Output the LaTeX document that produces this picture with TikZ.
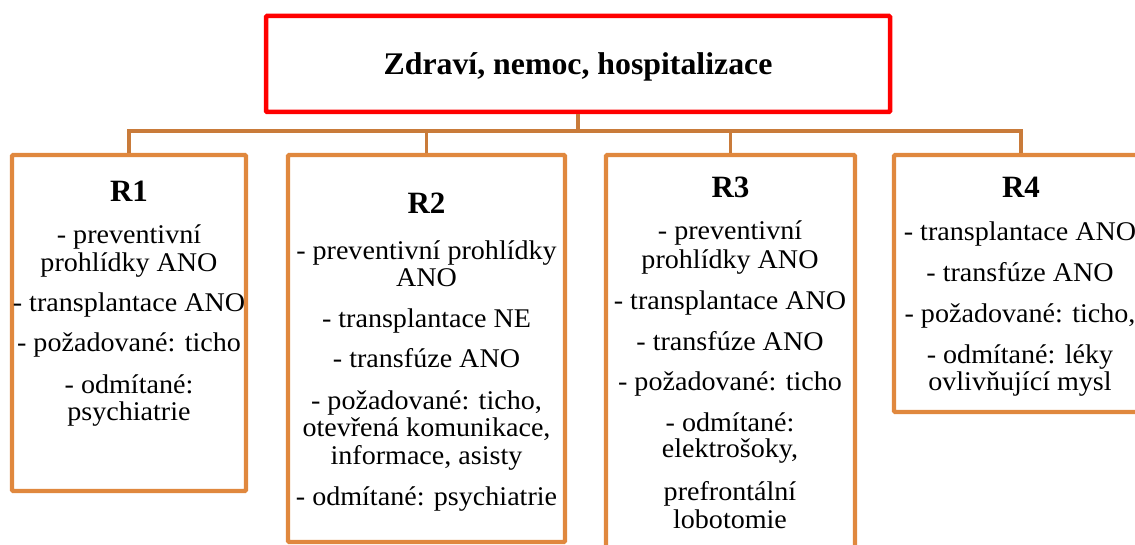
\documentclass[tikz,border=0pt]{standalone}
\usepackage{fontspec}
\setmainfont{Liberation Serif}
\definecolor{boxor}{HTML}{E0883E}
\definecolor{connor}{HTML}{C97B3A}
\definecolor{topred}{HTML}{FF0000}
\begin{document}
\begin{tikzpicture}[x=1pt,y=-1pt,
  rbox/.style={draw=boxor, line width=4.2pt, rounded corners=1pt, inner sep=0pt, fill=white},
  tbox/.style={draw=topred, line width=4.5pt, rounded corners=1pt, inner sep=0pt},
  conn/.style={draw=connor, line width=3.5pt},
  ln/.style={anchor=base, inner sep=0pt, font=\fontsize{27}{29}\selectfont, xscale=1.04},
  hd/.style={anchor=base, inner sep=0pt, font=\fontsize{31}{33}\selectfont\bfseries},
  ttl/.style={anchor=base, inner sep=0pt, font=\fontsize{31.5}{33}\selectfont\bfseries, xscale=1.01}]
\useasboundingbox (0,0) rectangle (1135,545);
\clip (0,0) rectangle (1135,545);

% boxes
\node[tbox, minimum width=624pt, minimum height=96pt] (top) at (578,64) {};
\node[rbox, minimum width=234pt, minimum height=336pt] (r1box) at (129,323) {};
\node[rbox, minimum width=277pt, minimum height=387pt] (r2box) at (426.5,348.5) {};
\node[rbox, minimum width=249pt, minimum height=420pt] (r3box) at (730.5,365) {};
\node[rbox, minimum width=254pt, minimum height=257pt] (r4box) at (1021,283.5) {};

% connectors
\coordinate (bar) at (578,131);
\draw[conn] (top.south) -- (bar);
\draw[conn] (bar) -| (r1box.north);
\draw[conn] (bar) -| (r2box.north);
\draw[conn] (bar) -| (r3box.north);
\draw[conn] (bar) -| (r4box.north);

% title
\node[ttl] (title) at (578,75) {Zdraví, nemoc, hospitalizace};

% headings
\node[hd] (r1h) at (129,202) {R1};
\node[hd] (r2h) at (426.5,214) {R2};
\node[hd] (r3h) at (730.5,198) {R3};
\node[hd] (r4h) at (1021,198) {R4};

% R1 text
\foreach \t/\y [count=\i] in {{- preventivní}/244, {prohlídky ANO}/271.5, {- transplantace ANO}/312, {- požadované: ticho}/352, {- odmítané:}/393, {psychiatrie}/420.5}
  \node[ln] (r1l\i) at (129,\y) {\t};

% R2 text
\foreach \t/\y [count=\i] in {{- preventivní prohlídky}/260, {ANO}/287, {- transplantace NE}/327, {- transfúze ANO}/367, {- požadované: ticho,}/409, {otevřená komunikace,}/436.5, {informace, asisty}/464, {- odmítané: psychiatrie}/505}
  \node[ln] (r2l\i) at (426.5,\y) {\t};

% R3 text
\foreach \t/\y [count=\i] in {{- preventivní}/240, {prohlídky ANO}/269, {- transplantace ANO}/309, {- transfúze ANO}/350, {- požadované: ticho}/390, {- odmítané:}/431.5, {elektrošoky,}/457, {prefrontální}/500, {lobotomie}/528}
  \node[ln] (r3l\i) at (730,\y) {\t};

% R4 text
\foreach \t/\y [count=\i] in {{- transplantace ANO}/241, {- transfúze ANO}/282, {- požadované: ticho,}/323, {- odmítané: léky}/363, {ovlivňující mysl}/390}
  \node[ln] (r4l\i) at (1020,\y) {\t};
\end{tikzpicture}
\end{document}
